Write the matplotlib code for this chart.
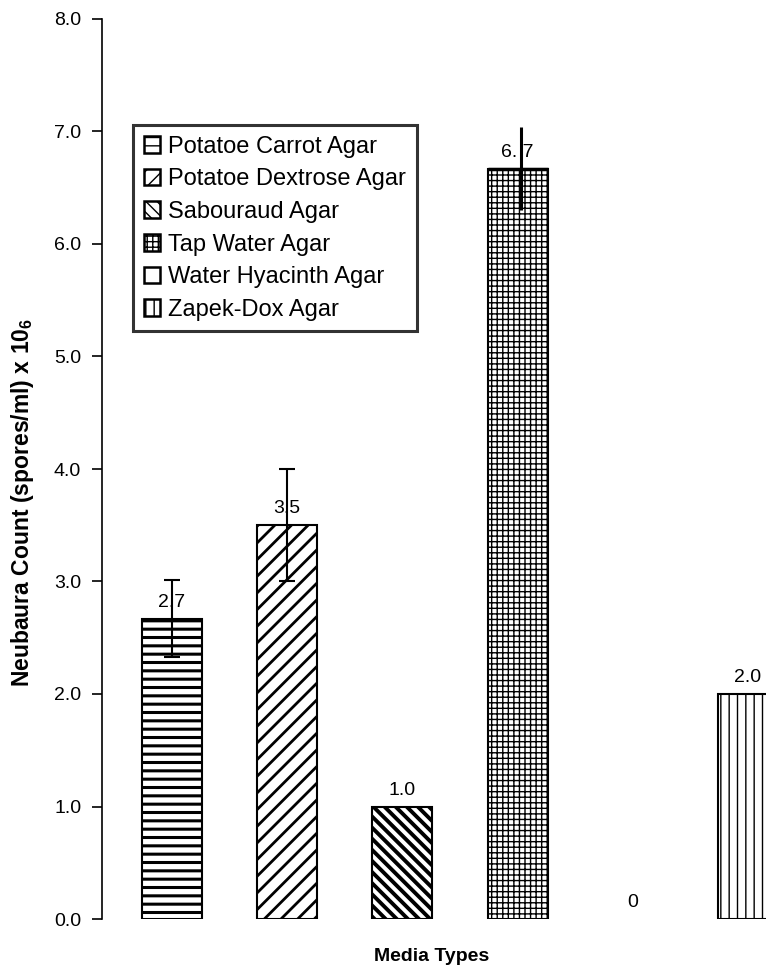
import matplotlib
matplotlib.use("Agg")
import matplotlib.pyplot as plt
from matplotlib.patches import Patch

plt.rcParams['font.family'] = ['Liberation Sans', 'DejaVu Sans']
plt.rcParams['mathtext.fontset'] = 'custom'
plt.rcParams['mathtext.rm'] = 'Liberation Sans'
plt.rcParams['mathtext.bf'] = 'Liberation Sans:bold'

media = ['Potatoe Carrot Agar', 'Potatoe Dextrose Agar', 'Sabouraud Agar',
         'Tap Water Agar', 'Water Hyacinth Agar', 'Zapek-Dox Agar']
counts = [2.67, 3.5, 1.0, 6.67, 0.0, 2.0]
errors = [0.34, 0.5, 0.0, 0.37, 0.0, 0.0]
bar_labels = ['2.7', '3.5', '1.0', '6. 7', '0', '2.0']
hatches = ['--', '//', '\\\\\\', '+++', '', '||']
hatch_lw = [2.2, 2.0, 2.8, 1.0, 1.0, 1.0]

W, H = 766, 972
fig = plt.figure(figsize=(W / 100, H / 100), dpi=100)
y0, y8 = 919, 19
ax = fig.add_axes([102 / W, (H - y0) / H, (W - 102) / W, (y0 - y8) / H])

x = list(range(len(media)))
for i in x:
    with plt.rc_context({'hatch.linewidth': hatch_lw[i]}):
        b = ax.bar(i, counts[i], width=0.52, color='white', edgecolor='black',
                   linewidth=1.5 if counts[i] > 0 else 0, hatch=hatches[i], zorder=2)
        if hasattr(b[0], 'set_hatch_linewidth'):
            b[0].set_hatch_linewidth(hatch_lw[i])
    if i == 3:
        # thick top edge on the tallest bar
        ax.hlines(counts[i], i - 0.26, i + 0.26, color='black', lw=2.5, zorder=3)

for i in x:
    if errors[i] > 0:
        ax.errorbar(i + (0.03 if i == 3 else 0), counts[i], yerr=errors[i],
                    fmt='none', ecolor='black', elinewidth=2.2 if i == 3 else 1.5,
                    capsize=0 if i == 3 else 6, capthick=1.5, zorder=4)
    ax.text(i, counts[i] + 0.07, bar_labels[i], ha='center', va='bottom',
            fontsize=14, zorder=3)

ax.set_xlim(-0.608, 5.156)
ax.set_ylim(0, 8)
ticks = [0, 1, 2, 3, 4, 5, 6, 7, 8]
ax.set_yticks(ticks)
ax.set_yticklabels(['%.1f' % v for v in ticks], fontsize=14)
ax.set_xticks([])
for s in ['top', 'right', 'bottom']:
    ax.spines[s].set_visible(False)
ax.spines['left'].set_linewidth(1.2)
ax.tick_params(axis='y', length=7, width=1.2, pad=8)

fig.text(432 / W, 1 - 956 / H, 'Media Types', ha='center', va='center',
         fontsize=14, fontweight='bold')
fig.text(23 / W, 1 - 502 / H, r'Neubaura Count (spores/ml) x 10$_{\mathbf{6}}$',
         ha='center', va='center', rotation=90, fontsize=16.5, fontweight='bold')

handles = []
for i in x:
    handles.append(Patch(facecolor='white', edgecolor='black',
                         hatch=hatches[i], linewidth=1.8))
leg = ax.legend(handles, media, loc='upper left',
                bbox_to_anchor=(133 / W, 1 - 125 / H), bbox_transform=fig.transFigure,
                fontsize=17, frameon=True, fancybox=False, borderpad=0.45,
                handlelength=0.7, handleheight=0.7, handletextpad=0.35,
                labelspacing=0.45, borderaxespad=0)
leg.get_frame().set_edgecolor('black')
leg.get_frame().set_linewidth(2.2)

fig.savefig('out.png', dpi=100)
